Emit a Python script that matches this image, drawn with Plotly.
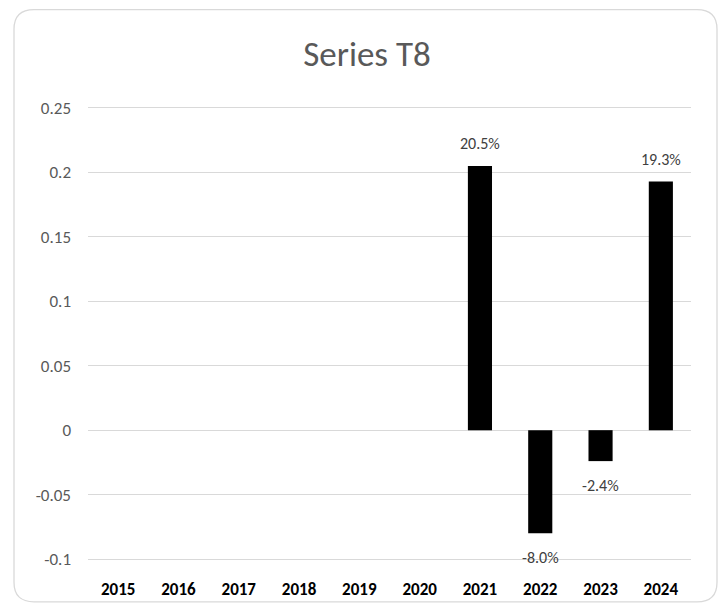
import plotly.graph_objects as go

years = ["2015", "2016", "2017", "2018", "2019", "2020", "2021", "2022", "2023", "2024"]
values = [None, None, None, None, None, None, 0.205, -0.080, -0.024, 0.193]
y_ticks = [-0.1, -0.05, 0, 0.05, 0.1, 0.15, 0.2, 0.25]
y_tick_labels = ["-0.1", "-0.05", "0", "0.05", "0.1", "0.15", "0.2", "0.25"]
title_text = "Series T8"

W, H = 723, 612
L, R, T, B = 88, 32, 106, 43
FONT = "Calibri, Carlito, Lato, sans-serif"

fig = go.Figure()
fig.add_trace(go.Bar(
    x=years, y=values, marker=dict(color="#000000", line=dict(width=0)),
    hoverinfo="x+y",
))

annotations = []
for i, (yr, v) in enumerate(zip(years, values)):
    if v is None:
        continue
    annotations.append(dict(
        x=i, y=v, xref="x", yref="y", text=f"{v*100:.1f}%",
        showarrow=False, yanchor="middle",
        yshift=22 if v >= 0 else -24,
        font=dict(family=FONT, size=16, color="#404040"),
    ))

# rounded frame around the chart area (paper coordinates)
pw, ph = W - L - R, H - T - B
def px(X):
    return (X - L) / pw
def py(Y):
    return (H - B - Y) / ph
x0, x1, y0, y1 = px(14), px(717), py(8), py(610.5)
rx, ry = 20 / pw, 20 / ph
path = (f"M {x0+rx},{y0} L {x1-rx},{y0} Q {x1},{y0} {x1},{y0-ry} "
        f"L {x1},{y1+ry} Q {x1},{y1} {x1-rx},{y1} "
        f"L {x0+rx},{y1} Q {x0},{y1} {x0},{y1+ry} "
        f"L {x0},{y0-ry} Q {x0},{y0} {x0+rx},{y0} Z")

eps = 0.0015
fig.update_layout(
    width=W, height=H,
    margin=dict(l=L, r=R, t=T, b=B),
    paper_bgcolor="white", plot_bgcolor="white",
    showlegend=False,
    bargap=0.6,
    title=dict(text=title_text, x=367 / W, xanchor="center", y=1 - 54 / H, yanchor="middle",
               font=dict(family=FONT, size=35, color="#595959")),
    xaxis=dict(
        type="category", categoryarray=years, range=[-0.5, len(years) - 0.5],
        showgrid=False, showline=False, ticks="", zeroline=False,
        tickfont=dict(family=FONT, size=17, color="#000000", weight="bold"),
        ticklabelstandoff=16,
    ),
    yaxis=dict(
        range=[y_ticks[0] - eps, y_ticks[-1] + eps], tickvals=y_ticks, ticktext=y_tick_labels,
        showgrid=True, gridcolor="#d9d9d9", gridwidth=1, zeroline=False,
        showline=False, ticks="",
        tickfont=dict(family=FONT, size=17, color="#595959"),
        ticklabelstandoff=16,
    ),
    annotations=annotations,
    shapes=[dict(type="path", xref="paper", yref="paper", path=path,
                 line=dict(color="#d9d9d9", width=1.3), fillcolor="rgba(0,0,0,0)", layer="below")],
)

fig.write_html("out.html")
